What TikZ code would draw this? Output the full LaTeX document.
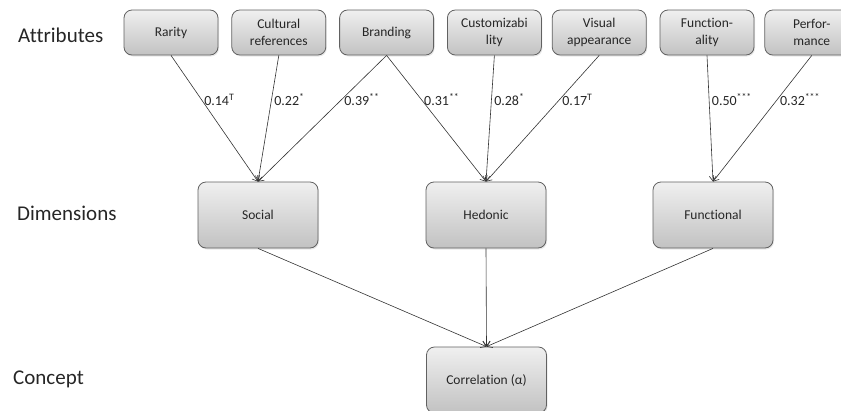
\documentclass[tikz,border=0pt]{standalone}
\usepackage{fontspec}
\setmainfont[Ligatures=NoCommon]{Carlito}
\usetikzlibrary{arrows.meta, positioning, shadows}

\begin{document}
\begin{tikzpicture}[
        x=1pt, y=-1pt,
        node distance=13pt,
        caixa/.style={rectangle, rounded corners=8pt, draw=black!62, line width=0.8pt, top color=black!6, bottom color=black!24, text=black!85, align=center, drop shadow={opacity=0.18, shadow xshift=1pt, shadow yshift=-1.5pt}},
        atributo/.style={caixa, minimum width=94pt, minimum height=45pt, inner sep=1pt, font=\fontsize{13.5}{17}\selectfont},
        dimensao/.style={caixa, minimum width=120pt, minimum height=66pt, font=\fontsize{13.5}{17}\selectfont},
        nivel/.style={anchor=west, inner sep=0pt, text=black!85, font=\fontsize{21}{24}\selectfont},
        peso/.style={pos=0.35, anchor=west, inner sep=2.5pt, text=black!85, font=\fontsize{14}{16}\selectfont},
        ligacao/.style={-{Straight Barb[length=5pt, width=7pt]}, draw=black!80, line width=0.6pt}
    ]
    \useasboundingbox (0,0) rectangle (841,410);

    % --- NIVEIS ---
    \node[nivel] (lbl_attr) at (18,35) {Attributes};
    \node[nivel] (lbl_dim) at (17,213) {Dimensions};
    \node[nivel] (lbl_conc) at (13,379) {Concept};

    % --- ATRIBUTOS ---
    \node[atributo] (attr_rarity) at (171,32.5) {Rarity};
    \node[atributo, right=of attr_rarity] (attr_cultural) {Cultural\\references};
    \node[atributo, right=of attr_cultural] (attr_branding) {Branding};
    \node[atributo, right=of attr_branding] (attr_custom) {Customizabi\\lity};
    \node[atributo, right=10pt of attr_custom] (attr_visual) {Visual\\appearance};
    \node[atributo, right=of attr_visual] (attr_function) {Function-\\ality};
    \node[atributo, right=10pt of attr_function] (attr_perform) {Perfor-\\mance};

    % --- DIMENSOES ---
    \node[dimensao] (dim_social) at (258,215) {Social};
    \node[dimensao] (dim_hedonic) at (486,215) {Hedonic};
    \node[dimensao] (dim_functional) at (713,215) {Functional};

    % --- CONCEITO ---
    \node[dimensao] (conc_corr) at (486.5,380) {Correlation (α)};

    % --- LIGACOES ---
    \draw[ligacao] (attr_rarity.south) -- node[peso] {0.14\textsuperscript{T}} (dim_social.north);
    \draw[ligacao] (attr_cultural.south) -- node[peso] {0.22\textsuperscript{*}} (dim_social.north);
    \draw[ligacao] (attr_branding.south) -- node[peso] {0.39\textsuperscript{**}} (dim_social.north);
    \draw[ligacao] (attr_branding.south) -- node[peso] {0.31\textsuperscript{**}} (dim_hedonic.north);
    \draw[ligacao] (attr_custom.south) -- node[peso] {0.28\textsuperscript{*}} (dim_hedonic.north);
    \draw[ligacao] (attr_visual.south) -- node[peso] {0.17\textsuperscript{T}} (dim_hedonic.north);
    \draw[ligacao] (attr_function.south) -- node[peso] {0.50\textsuperscript{***}} (dim_functional.north);
    \draw[ligacao] (attr_perform.south) -- node[peso] {0.32\textsuperscript{***}} (dim_functional.north);
    \draw[ligacao] (dim_social.south) -- (conc_corr.north);
    \draw[ligacao] (dim_hedonic.south) -- (conc_corr.north);
    \draw[ligacao] (dim_functional.south) -- (conc_corr.north);

\end{tikzpicture}
\end{document}
